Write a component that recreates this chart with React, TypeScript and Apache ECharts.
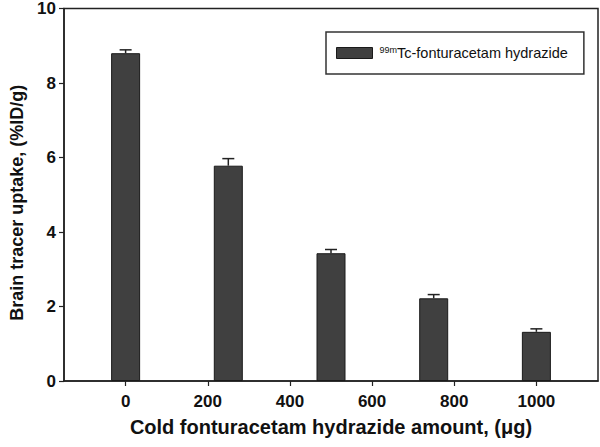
import React, { useEffect, useRef } from "react";
import * as echarts from "echarts";

const doses = [0, 250, 500, 750, 1000];
const uptake = [8.8, 5.78, 3.43, 2.22, 1.32];
const errors = [0.09, 0.19, 0.1, 0.1, 0.08];
const xTicks = [0, 200, 400, 600, 800, 1000];
const seriesName = "99mTc-fonturacetam hydrazide";

const FONT = "'Liberation Sans', Arial, Helvetica, sans-serif";

export default function App() {
  const ref = useRef<HTMLDivElement>(null);
  useEffect(() => {
    if (!ref.current) return;
    const chart = echarts.init(ref.current, undefined, { renderer: "svg" });
    const barData = doses.map((d, i) => [d, uptake[i]]);
    const errData = doses.map((d, i) => [d, uptake[i], uptake[i] + errors[i]]);
    chart.setOption({
      animation: false,
      backgroundColor: "#ffffff",
      textStyle: { fontFamily: FONT },
      grid: {
        left: 61,
        right: 2,
        top: 7,
        bottom: 66,
        show: true,
        borderColor: "#222",
        borderWidth: 1.5,
        containLabel: false,
      },
      legend: {
        show: true,
        data: [seriesName],
        left: 326,
        top: 32,
        orient: "horizontal",
        padding: [13, 16, 13, 10],
        borderColor: "#333",
        borderWidth: 1.5,
        itemWidth: 36,
        itemHeight: 11,
        icon: "rect",
        itemStyle: { color: "#404040", borderColor: "#1a1a1a", borderWidth: 1 },
        formatter: () => "{sup|99m}{n|Tc-fonturacetam hydrazide}",
        textStyle: {
          fontFamily: FONT,
          rich: {
            sup: { fontSize: 9, color: "#111", fontFamily: FONT, padding: [0, 0, 7, 2], lineHeight: 14 },
            n: { fontSize: 14.5, color: "#111", fontFamily: FONT, lineHeight: 14 },
          },
        },
      },
      xAxis: {
        type: "value",
        min: -150,
        max: 1150,
        name: "Cold fonturacetam hydrazide amount, (μg)",
        nameLocation: "middle",
        nameGap: 36,
        nameTextStyle: { fontSize: 20, fontWeight: "bold", color: "#111", fontFamily: FONT },
        axisLine: { show: true, onZero: false, lineStyle: { color: "#222", width: 1.5 } },
        axisTick: {
          show: true,
          inside: false,
          length: 5,
          customValues: xTicks,
          lineStyle: { color: "#222", width: 1.2 },
        },
        axisLabel: {
          customValues: xTicks,
          formatter: (v: number) => String(v),
          fontSize: 17,
          fontWeight: "bold",
          color: "#111",
          margin: 12,
          fontFamily: FONT,
        },
        splitLine: { show: false },
      },
      yAxis: {
        type: "value",
        min: 0,
        max: 10,
        interval: 2,
        name: "Brain tracer uptake, (%ID/g)",
        nameLocation: "middle",
        nameGap: 38,
        nameTextStyle: {
          fontSize: 18,
          fontWeight: "bold",
          color: "#111",
          fontFamily: FONT,
          padding: [0, 16, 0, 0],
        },
        axisLine: { show: true, onZero: false, lineStyle: { color: "#222", width: 1.5 } },
        axisTick: { show: true, inside: false, length: 5, lineStyle: { color: "#222", width: 1.2 } },
        axisLabel: { fontSize: 17, fontWeight: "bold", color: "#111", margin: 8, fontFamily: FONT },
        splitLine: { show: false },
      },
      series: [
        {
          name: seriesName,
          type: "bar",
          data: barData,
          barWidth: 29,
          itemStyle: { color: "#404040", borderColor: "#1a1a1a", borderWidth: 1 },
        },
        {
          name: "err",
          type: "custom",
          data: errData,
          z: 3,
          renderItem: (params: any, api: any) => {
            const x = api.value(0);
            const lo = api.coord([x, api.value(1)]);
            const hi = api.coord([x, api.value(2)]);
            const half = 6;
            return {
              type: "group",
              children: [
                {
                  type: "line",
                  shape: { x1: lo[0], y1: lo[1], x2: hi[0], y2: hi[1] },
                  style: { stroke: "#222", lineWidth: 1.5 },
                },
                {
                  type: "line",
                  shape: { x1: hi[0] - half, y1: hi[1], x2: hi[0] + half, y2: hi[1] },
                  style: { stroke: "#222", lineWidth: 1.5 },
                },
              ],
            };
          },
        },
      ],
    });
    return () => chart.dispose();
  }, []);
  return <div ref={ref} style={{ width: 600, height: 447, position: "absolute", left: 0, top: 0 }} />;
}
